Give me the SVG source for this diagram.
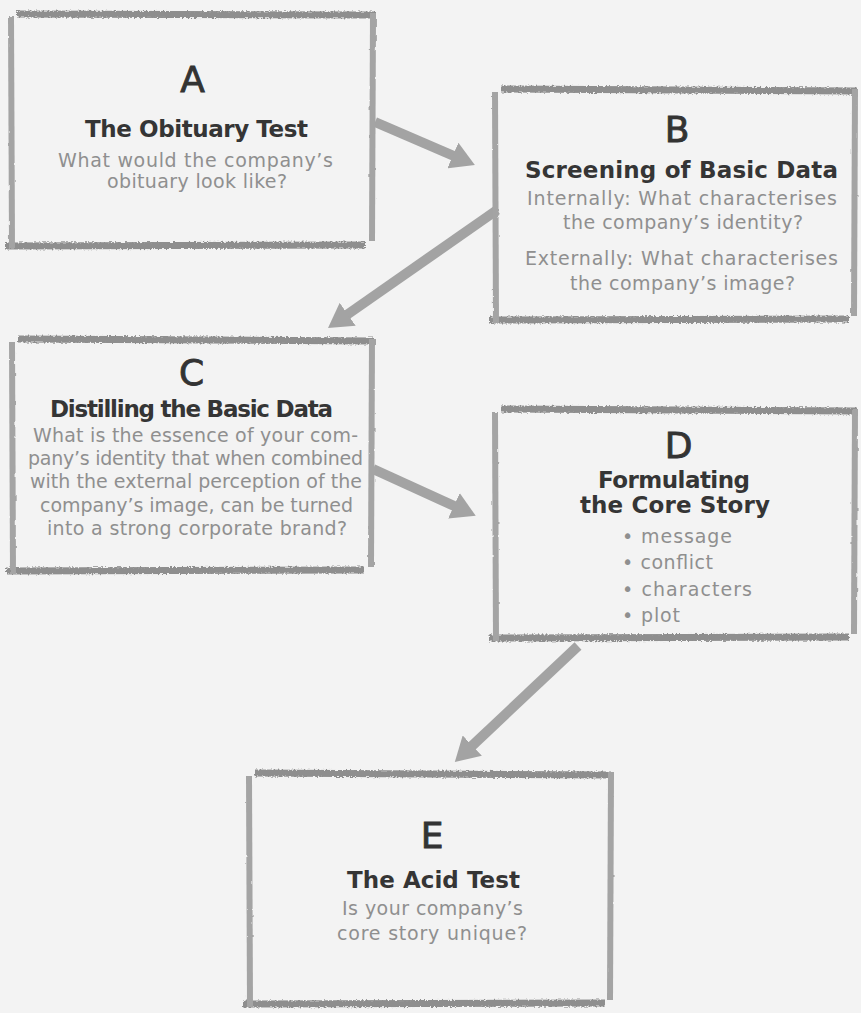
<svg xmlns="http://www.w3.org/2000/svg" width="861" height="1013" viewBox="0 0 861 1013">
  <defs>
    <!-- rough, pencil-like edge for the box outlines -->
    <filter id="rough" filterUnits="userSpaceOnUse" x="0" y="0" width="861" height="1013">
      <feTurbulence type="fractalNoise" baseFrequency="0.5 0.8" numOctaves="2" seed="3" result="n"/>
      <feDisplacementMap in="SourceGraphic" in2="n" scale="4" xChannelSelector="R" yChannelSelector="G"/>
    </filter>
    <filter id="soft" filterUnits="userSpaceOnUse" x="0" y="0" width="861" height="1013">
      <feTurbulence type="fractalNoise" baseFrequency="0.15" numOctaves="1" seed="7" result="n"/>
      <feDisplacementMap in="SourceGraphic" in2="n" scale="2.5" xChannelSelector="R" yChannelSelector="G"/>
    </filter>
    <marker id="head" viewBox="0 0 24 28" refX="10" refY="14" markerWidth="24" markerHeight="28" markerUnits="userSpaceOnUse" orient="auto">
      <path d="M0,0 L24,14 L0,28 z" fill="#a3a3a3"/>
    </marker>
    <style>
      .eh { stroke: #8e8e8e; stroke-width: 7; fill: none; filter: url(#rough); }
      .ev { stroke: #a4a4a4; stroke-width: 6; fill: none; filter: url(#soft); }
      .letter { font-family: "DejaVu Sans", "Liberation Sans", sans-serif; font-size: 36px; fill: #333333; stroke: #333333; stroke-width: 0.9; text-anchor: middle; }
      .title { font-family: "DejaVu Sans", "Liberation Sans", sans-serif; font-size: 23px; font-weight: bold; fill: #353535; text-anchor: middle; }
      .body { font-family: "DejaVu Sans", "Liberation Sans", sans-serif; font-size: 19px; font-weight: normal; fill: #8f8f8f; text-anchor: middle; }
      .bullet { font-family: "DejaVu Sans", "Liberation Sans", sans-serif; font-size: 19px; font-weight: normal; fill: #8f8f8f; }
      .arrow { stroke: #a3a3a3; stroke-width: 10; fill: none; marker-end: url(#head); }
    </style>
  </defs>

  <rect x="0" y="0" width="861" height="1013" fill="#f3f3f3"/>

  <!-- connectors -->
  <g id="connectors">
    <line class="arrow" x1="375" y1="122" x2="462" y2="159.5"/>
    <line class="arrow" x1="497" y1="210" x2="339.5" y2="320"/>
    <line class="arrow" x1="373" y1="469" x2="463" y2="510"/>
    <line class="arrow" x1="578" y1="646" x2="465" y2="752.5"/>
  </g>

  <!-- A -->
  <g id="node-a">
    <line class="eh" x1="17" y1="14" x2="375" y2="15"/>
    <line class="ev" x1="373" y1="13" x2="372" y2="241"/>
    <line class="eh" x1="5" y1="246" x2="365" y2="245"/>
    <line class="ev" x1="11" y1="16" x2="12" y2="249"/>
    <text class="letter" x="192.5" y="92">A</text>
    <text class="title" x="196.5" y="137" textLength="223">The Obituary Test</text>
    <text class="body" x="195.5" y="167" textLength="275">What would the company’s</text>
    <text class="body" x="197" y="188" textLength="180">obituary look like?</text>
  </g>

  <!-- B -->
  <g id="node-b">
    <line class="eh" x1="501" y1="89" x2="857" y2="91"/>
    <line class="ev" x1="855" y1="89" x2="854" y2="316"/>
    <line class="eh" x1="489" y1="320" x2="849" y2="319"/>
    <line class="ev" x1="495" y1="92" x2="496" y2="323"/>
    <text class="letter" x="677" y="142">B</text>
    <text class="title" x="681.5" y="178" textLength="313">Screening of Basic Data</text>
    <text class="body" x="682" y="205" textLength="310">Internally: What characterises</text>
    <text class="body" x="683" y="229" textLength="240">the company’s identity?</text>
    <text class="body" x="681.5" y="265" textLength="313">Externally: What characterises</text>
    <text class="body" x="682.5" y="290" textLength="225">the company’s image?</text>
  </g>

  <!-- C -->
  <g id="node-c">
    <line class="eh" x1="18" y1="339" x2="374" y2="341"/>
    <line class="ev" x1="372" y1="339" x2="371" y2="567"/>
    <line class="eh" x1="6" y1="571" x2="364" y2="570"/>
    <line class="ev" x1="12" y1="342" x2="13" y2="574"/>
    <text class="letter" x="191.5" y="385">C</text>
    <text class="title" x="191.5" y="417" textLength="283">Distilling the Basic Data</text>
    <text class="body" x="195.5" y="442" textLength="325">What is the essence of your com-</text>
    <text class="body" x="195.5" y="465" textLength="335">pany’s identity that when combined</text>
    <text class="body" x="196" y="488" textLength="332">with the external perception of the</text>
    <text class="body" x="196.5" y="512" textLength="313">company’s image, can be turned</text>
    <text class="body" x="197" y="535" textLength="300">into a strong corporate brand?</text>
  </g>

  <!-- D -->
  <g id="node-d">
    <line class="eh" x1="501" y1="409" x2="857" y2="411"/>
    <line class="ev" x1="855" y1="409" x2="854" y2="634"/>
    <line class="eh" x1="489" y1="638" x2="849" y2="637"/>
    <line class="ev" x1="495" y1="412" x2="496" y2="641"/>
    <text class="letter" x="678.5" y="458">D</text>
    <text class="title" x="674" y="488" textLength="152">Formulating</text>
    <text class="title" x="675" y="513" textLength="190">the Core Story</text>
    <text class="bullet" x="622" y="543" textLength="110">• message</text>
    <text class="bullet" x="622" y="569" textLength="91">• conflict</text>
    <text class="bullet" x="622" y="596" textLength="130">• characters</text>
    <text class="bullet" x="622" y="622" textLength="58">• plot</text>
  </g>

  <!-- E -->
  <g id="node-e">
    <line class="eh" x1="255" y1="773" x2="613" y2="775"/>
    <line class="ev" x1="611" y1="772" x2="610" y2="1000"/>
    <line class="eh" x1="243" y1="1004" x2="605" y2="1003"/>
    <line class="ev" x1="249" y1="776" x2="250" y2="1007"/>
    <text class="letter" x="432" y="848">E</text>
    <text class="title" x="433.5" y="888" textLength="173">The Acid Test</text>
    <text class="body" x="432.5" y="915" textLength="181">Is your company’s</text>
    <text class="body" x="432" y="940" textLength="190">core story unique?</text>
  </g>
</svg>
